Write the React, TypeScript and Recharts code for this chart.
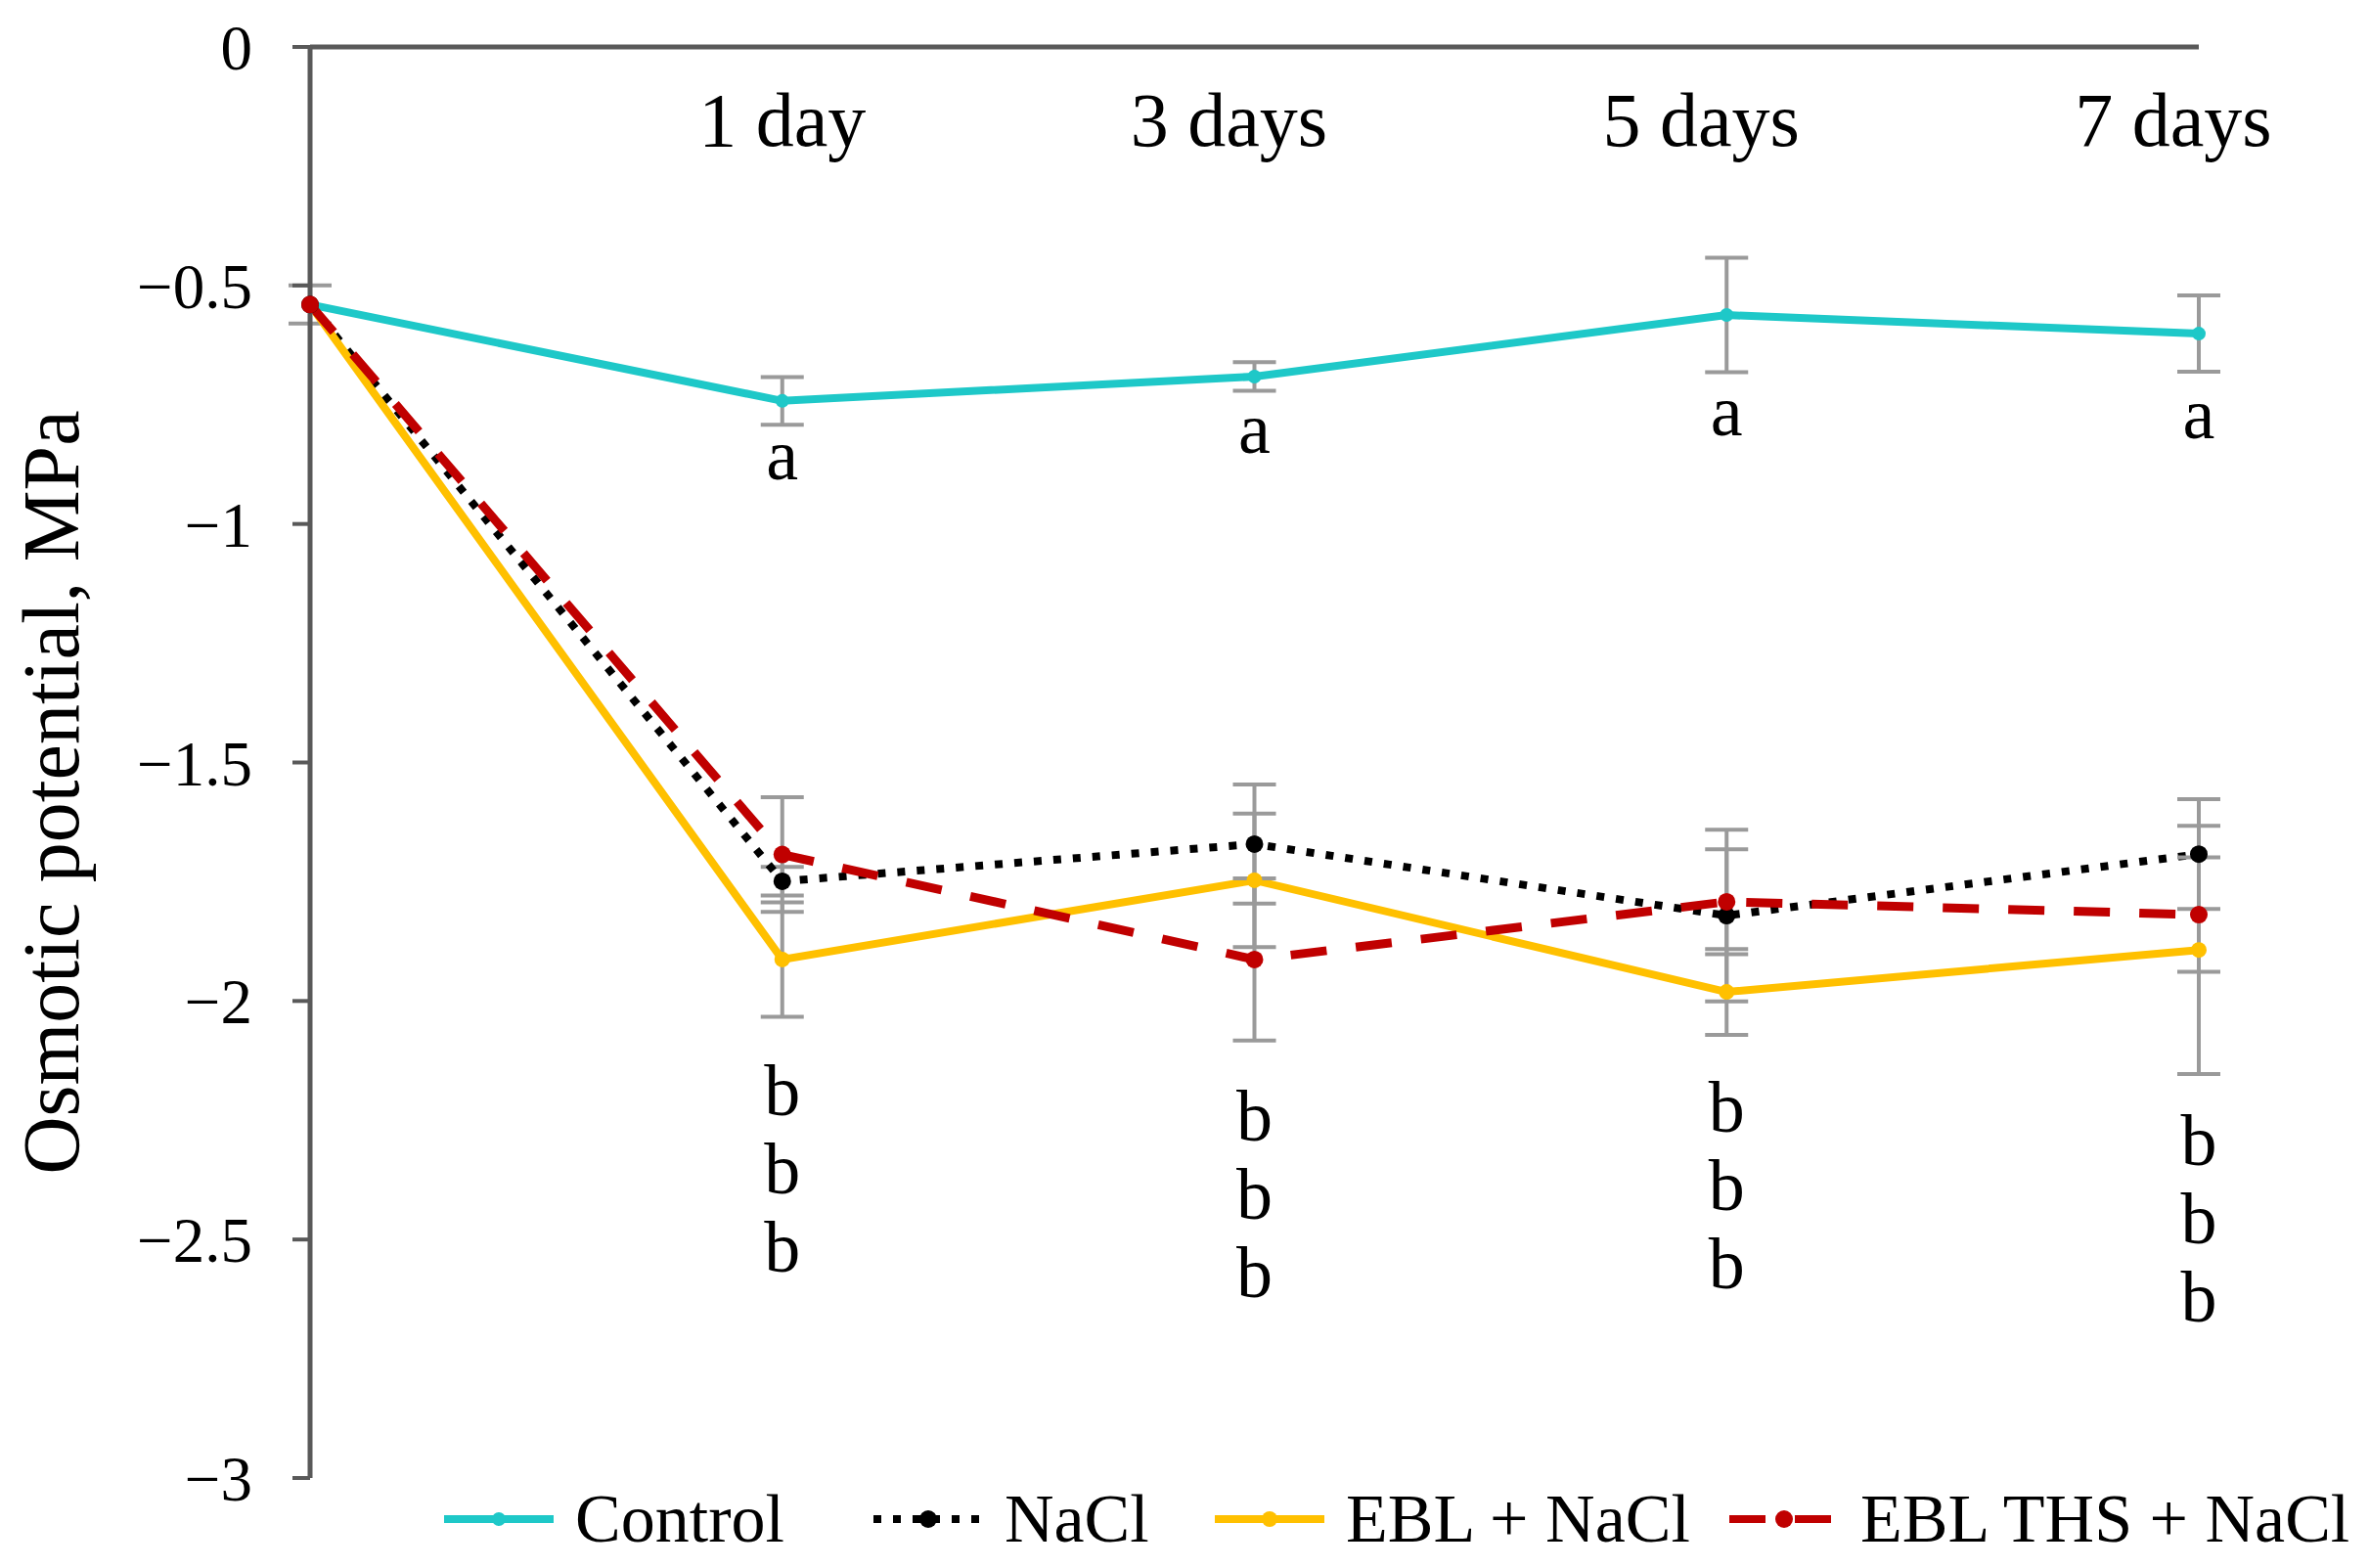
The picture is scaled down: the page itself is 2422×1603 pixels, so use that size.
import { ComposedChart, Line, XAxis, YAxis, ErrorBar, Legend } from "recharts";

const days = ["", "1 day", "3 days", "5 days", "7 days"];
const control = [-0.54, -0.742, -0.691, -0.562, -0.601];
const controlErr = [0.04, 0.05, 0.03, 0.12, 0.08];
const nacl = [-0.54, -1.749, -1.671, -1.821, -1.692];
const naclErr = [0, 0.03, 0.125, 0.18, 0.115];
const ebl = [-0.54, -1.913, -1.747, -1.981, -1.893];
const eblErr = [0, 0.12, 0.14, 0.09, 0.26];
const ths = [-0.54, -1.693, -1.913, -1.792, -1.819];
const thsErr = [0, 0.12, 0.17, 0.11, 0.12];
// where the significance letters sit (MPa)
const letterA = [null, -0.871, -0.816, -0.78, -0.785];
const letterB = [null, -2.188, -2.241, -2.223, -2.292];
const yTicks = [0, -0.5, -1, -1.5, -2, -2.5, -3];

const data = days.map((day, i) => ({
  day,
  control: control[i],
  controlErr: controlErr[i],
  nacl: nacl[i],
  naclErr: naclErr[i],
  ebl: ebl[i],
  eblErr: eblErr[i],
  ths: ths[i],
  thsErr: thsErr[i],
  a: letterA[i],
  b: letterB[i],
}));

const font = '"Liberation Serif", "Times New Roman", serif';
const axisColor = "#595959";
const errColor = "#9a9a9a";

const series = [
  { key: "control", name: "Control", color: "#1ec8c8", dash: undefined, width: 8, r: 7, left: 452 },
  { key: "nacl", name: "NaCl", color: "#000000", dash: "8 12", width: 8, r: 9, left: 891 },
  { key: "ebl", name: "EBL + NaCl", color: "#ffc000", dash: undefined, width: 8, r: 8, left: 1240 },
  { key: "ths", name: "EBL THS + NaCl", color: "#c00000", dash: "37 30", width: 9, r: 9, left: 1766 },
];

const DayTick = (props: any) => {
  const { x, y, payload, index } = props;
  if (!payload.value) return <g />;
  // Excel nudged the plural labels a little left
  const dx = index > 1 ? -26 : 0;
  return (
    <text x={x + dx} y={y + 101} textAnchor="middle" fontSize={78} fontFamily={font} fill="#000">
      {payload.value}
    </text>
  );
};

const renderA = (props: any) => {
  const { x, y, value, index } = props;
  if (value == null) return <g key={`a-${index}`} />;
  return (
    <text key={`a-${index}`} x={x} y={y + 17} textAnchor="middle" fontSize={74} fontFamily={font} fill="#000">
      a
    </text>
  );
};

const renderB = (props: any) => {
  const { x, y, value, index } = props;
  if (value == null) return <g key={`b-${index}`} />;
  return (
    <g key={`b-${index}`}>
      {[0, 1, 2].map((k) => (
        <text key={k} x={x} y={y + 25 + k * 80} textAnchor="middle" fontSize={74} fontFamily={font} fill="#000">
          b
        </text>
      ))}
    </g>
  );
};

const SeriesLegend = () => (
  <div style={{ position: "relative", height: 0 }}>
    {series.map((s) => (
      <div
        key={s.key}
        style={{ position: "absolute", left: s.left, top: 0, height: 76, display: "flex", alignItems: "center", whiteSpace: "nowrap" }}
      >
        <svg width={116} height={30}>
          <line x1={2} y1={15} x2={114} y2={15} stroke={s.color} strokeWidth={8} strokeDasharray={s.dash} />
          <circle cx={58} cy={15} r={s.r} fill={s.color} />
        </svg>
        <span style={{ marginLeft: 20, fontFamily: font, fontSize: 70, color: "#000", lineHeight: "76px" }}>{s.name}</span>
      </div>
    ))}
  </div>
);

const App = () => {
  return (
    <div style={{ position: "absolute", left: 0, top: 0, width: 2422, height: 1603, background: "#fff" }}>
      <ComposedChart width={2422} height={1603} data={data} margin={{ top: 8, right: 174, bottom: 92, left: 0 }}>
        <XAxis
          dataKey="day"
          orientation="top"
          scale="point"
          padding={{ left: 0, right: 0 }}
          height={40}
          interval={0}
          tickSize={0}
          tickMargin={0}
          tickLine={false}
          axisLine={{ stroke: axisColor, strokeWidth: 5 }}
          tick={<DayTick />}
        />
        <YAxis
          type="number"
          domain={[-3, 0]}
          ticks={yTicks}
          width={317}
          tickSize={18}
          tickMargin={41}
          axisLine={{ stroke: axisColor, strokeWidth: 5 }}
          tickLine={{ stroke: axisColor, strokeWidth: 4 }}
          tick={{ fontSize: 65, fill: "#000", fontFamily: font }}
          tickFormatter={(v: number) => (v === 0 ? "0" : String(v).replace("-", "\u2212"))}
          label={{
            content: () => (
              <text
                x={80}
                y={810}
                transform="rotate(-90, 80, 810)"
                textAnchor="middle"
                fontSize={82}
                fontFamily={font}
                fill="#000"
              >
                Osmotic potential, MPa
              </text>
            ),
          }}
        />
        {series.map((s) => (
          <Line
            key={s.key}
            type="linear"
            dataKey={s.key}
            name={s.name}
            stroke={s.color}
            strokeWidth={s.width}
            strokeDasharray={s.dash}
            dot={{ r: s.r, fill: s.color, stroke: s.color, strokeWidth: 0 }}
            activeDot={false}
            isAnimationActive={false}
          >
            <ErrorBar dataKey={`${s.key}Err`} direction="y" width={22} stroke={errColor} strokeWidth={4} isAnimationActive={false} />
          </Line>
        ))}
        <Line dataKey="a" stroke="none" dot={false} activeDot={false} legendType="none" isAnimationActive={false} label={renderA} />
        <Line dataKey="b" stroke="none" dot={false} activeDot={false} legendType="none" isAnimationActive={false} label={renderB} />
        <Legend
          verticalAlign="bottom"
          wrapperStyle={{ top: 1515, left: 0, bottom: "auto", width: 2422, height: 0 }}
          content={() => <SeriesLegend />}
        />
      </ComposedChart>
    </div>
  );
};

export default App;
